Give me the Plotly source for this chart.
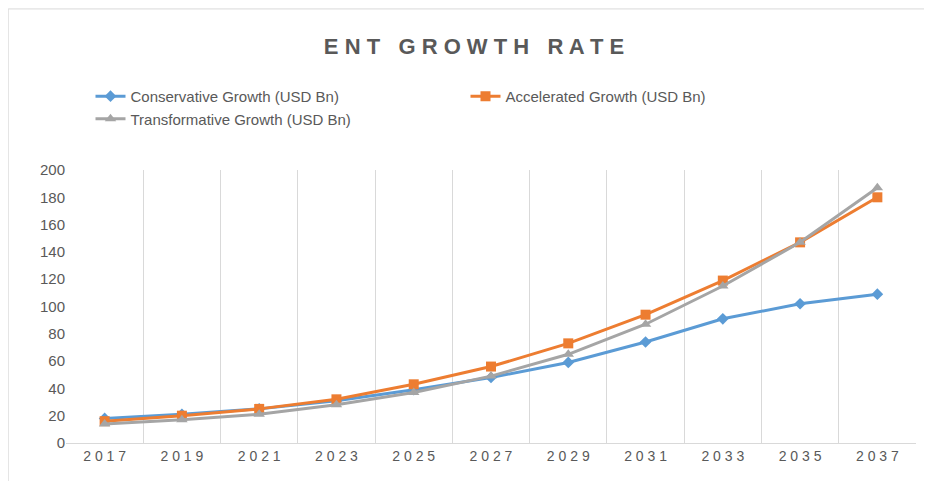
import plotly.graph_objects as go

years = [2017, 2019, 2021, 2023, 2025, 2027, 2029, 2031, 2033, 2035, 2037]
conservative = [18, 21, 25, 31, 39, 48, 59, 74, 91, 102, 109]
accelerated = [16, 20, 25, 32, 43, 56, 73, 94, 119, 147, 180]
transformative = [14, 17, 21, 28, 37, 49, 65, 87, 115, 147, 187]

series = [
    ("Conservative Growth (USD Bn)", conservative, "#5B9BD5", "diamond", 9),
    ("Accelerated Growth (USD Bn)", accelerated, "#ED7D31", "square", 10),
    ("Transformative Growth (USD Bn)", transformative, "#A5A5A5", "triangle-up", 10),
]

fig = go.Figure()
for name, vals, color, sym, size in series:
    fig.add_trace(go.Scatter(
        x=years, y=vals, name=name, mode="lines+markers",
        line=dict(color=color, width=3),
        marker=dict(symbol=sym, size=size, color=color),
    ))

fig.update_layout(
    width=932, height=481,
    paper_bgcolor="white", plot_bgcolor="white",
    font=dict(family="Liberation Sans, Arial", color="#595959", size=15),
    title=dict(text="<b>E N T   G R O W T H   R A T E</b>", x=0.5, xanchor="center",
               y=0.92, yanchor="middle", font=dict(size=22, color="#595959")),
    margin=dict(l=58, r=24, t=162, b=46, autoexpand=False),
    legend=dict(orientation="h", x=0.47, xanchor="center", y=1.33, yanchor="top",
                entrywidth=330, font=dict(size=15, color="#595959")),
    showlegend=True,
    xaxis=dict(range=[2016, 2038], tickvals=years,
               ticktext=[" ".join(str(y)) for y in years],
               showgrid=False, showline=True, linecolor="#D9D9D9",
               tickfont=dict(size=14),
               minor=dict(tickvals=list(range(2018, 2038, 2)), showgrid=True,
                          gridcolor="#D9D9D9", gridwidth=1)),
    yaxis=dict(range=[0, 200], dtick=20, showgrid=False, zeroline=False,
               tickfont=dict(size=15)),
    shapes=[dict(type="rect", xref="paper", yref="paper", x0=-0.068, x1=1.028,
                 y0=-0.168, y1=1.59, line=dict(color="#D9D9D9", width=1))],
)

fig.write_html("out.html")
